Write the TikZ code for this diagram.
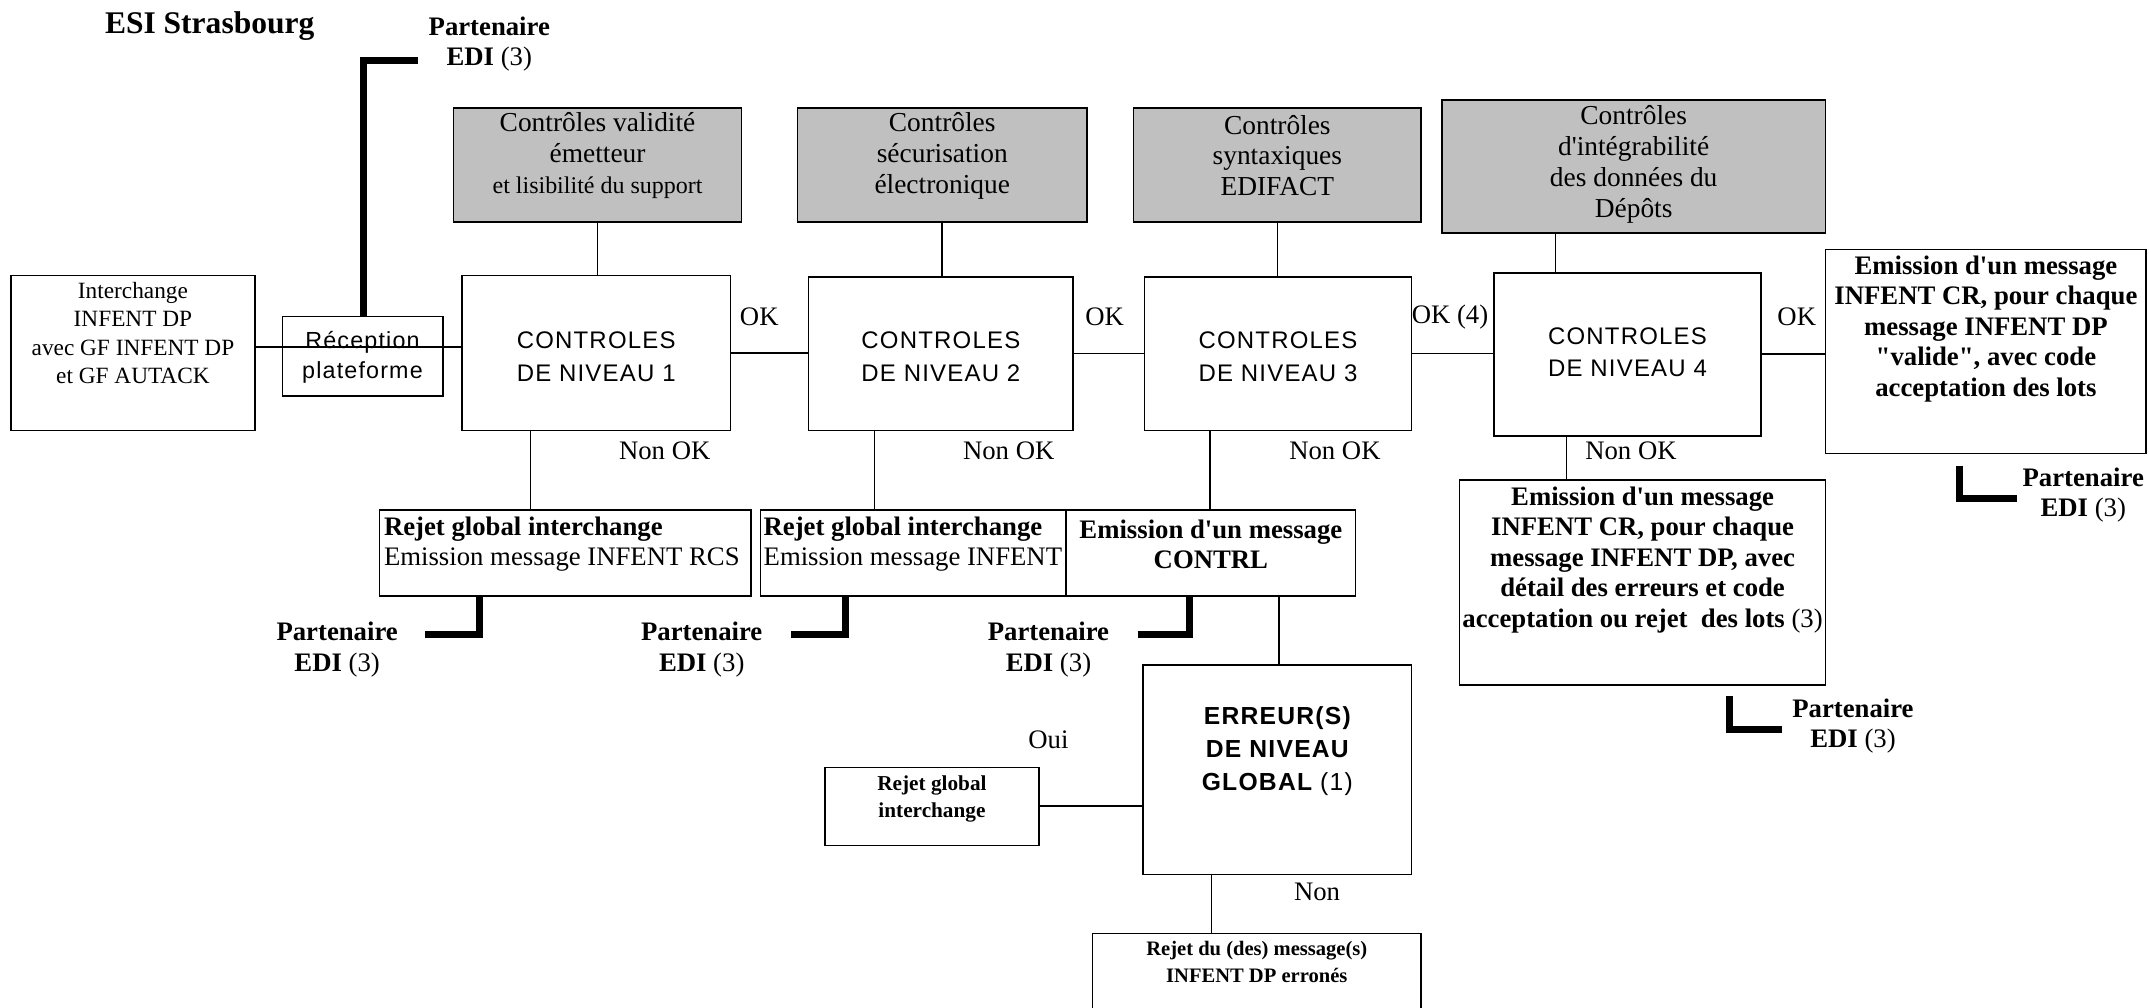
\documentclass[tikz,border=0pt]{standalone}
\usepackage{fontspec}
\setmainfont{Liberation Serif}
\newfontfamily\sfsp[LetterSpace=5]{Liberation Sans}
\usetikzlibrary{calc}
\definecolor{greyfill}{HTML}{C0C0C0}
\tikzset{
  box/.style={draw, line width=1.2pt, inner sep=0pt},
  greybox/.style={box, fill=greyfill},
  txt/.style={inner sep=0pt, align=center, font=\fontsize{19.5}{22}\selectfont},
  greytxt/.style={inner sep=0pt, align=center, font=\fontsize{20}{22.5}\selectfont},
  smalltxt/.style={inner sep=0pt, align=center, font=\fontsize{17}{20.5}\selectfont},
  tinybold/.style={inner sep=0pt, align=center, font=\bfseries\fontsize{15.5}{20}\selectfont},
  lvltxt/.style={inner sep=0pt, align=center, font=\sfsp\fontsize{17.5}{24}\selectfont},
  conn/.style={line width=1.2pt},
  partner/.style={line width=5pt},
}
\newcommand{\aq}{\textquotesingle}
\newcommand{\dq}{\textquotedbl}
\begin{document}
\begin{tikzpicture}[x=1pt,y=-1pt]
\fill[white] (0,0) rectangle (1568,735);
\useasboundingbox (0,0) rectangle (1568,735);

% title
\node[inner sep=0pt, font=\bfseries\fontsize{23}{26}\selectfont] (title) at (153,19) {ESI Strasbourg};

% top partner
\node[txt] (p0t) at (357,32) {\textbf{Partenaire}\\\textbf{EDI} (3)};

% interchange
\node[box, minimum width=178pt, minimum height=113pt] (inter) at (97,257.5) {};
\node[smalltxt] (intert) at (97,243) {Interchange\\INFENT DP\\avec GF INFENT DP\\et GF AUTACK};

% reception
\node[box, minimum width=117pt, minimum height=58pt] (recep) at (264.5,260) {};
\node[inner sep=0pt, align=center, font=\sfsp\fontsize{17}{22}\selectfont] (recept) at (264.5,261) {Réception\\plateforme};

% level boxes
\node[box, minimum width=196pt, minimum height=113pt] (L1) at (435,257.5) {};
\node[box, minimum width=193pt, minimum height=112pt] (L2) at (686.5,258) {};
\node[box, minimum width=195pt, minimum height=112pt] (L3) at (932.5,258) {};
\node[box, minimum width=195pt, minimum height=119pt] (L4) at (1187.5,258.5) {};
\node[lvltxt] (L1t) at (435,260) {CONTROLES\\DE NIVEAU 1};
\node[lvltxt] (L2t) at (686.5,260) {CONTROLES\\DE NIVEAU 2};
\node[lvltxt] (L3t) at (932.5,260) {CONTROLES\\DE NIVEAU 3};
\node[lvltxt] (L4t) at (1187.5,257) {CONTROLES\\DE NIVEAU 4};

% grey boxes
\node[greybox, minimum width=210pt, minimum height=83pt] (G1) at (436,120.5) {};
\node[greybox, minimum width=211pt, minimum height=83pt] (G2) at (687.5,120.5) {};
\node[greybox, minimum width=210pt, minimum height=83pt] (G3) at (932,120.5) {};
\node[greybox, minimum width=280pt, minimum height=97pt] (G4) at (1192,121.5) {};
\node[greytxt] (G1t) at (436,113.5) {Contrôles validité\\émetteur\\{\fontsize{17.5}{20}\selectfont et lisibilité du support}};
\node[greytxt] (G2t) at (687.5,113.5) {Contrôles\\sécurisation\\électronique};
\node[greytxt] (G3t) at (932,113.5) {Contrôles\\syntaxiques\\EDIFACT};
\node[greytxt] (G4t) at (1192,120) {Contrôles\\d\aq intégrabilité\\des données du\\Dépôts};

% emission right box
\node[box, minimum width=234pt, minimum height=149pt] (ER) at (1449,256.5) {};
\node[txt, font=\bfseries\fontsize{19.5}{22.3}\selectfont] (ERt) at (1449,240) {Emission d\aq un message\\INFENT CR, pour chaque\\message INFENT DP\\\dq valide\dq, avec code\\acceptation des lots};

% reject boxes
\node[box, minimum width=271pt, minimum height=63pt] (R1) at (412.5,403.5) {};
\node[txt, align=left, anchor=west] (R1t) at (280,397) {\textbf{Rejet global interchange}\\Emission message INFENT RCS};
\node[box, minimum width=223pt, minimum height=63pt] (R2) at (666.5,403.5) {};
\node[txt, align=left, anchor=west] (R2t) at (557,397) {\textbf{Rejet global interchange}\\Emission message INFENT};
\node[box, minimum width=211pt, minimum height=63pt] (R3) at (883.5,403.5) {};
\node[txt, font=\bfseries\fontsize{19.5}{22}\selectfont] (R3t) at (883.5,397) {Emission d\aq un message\\CONTRL};
\node[box, minimum width=267pt, minimum height=150pt] (R4) at (1198.5,425) {};
\node[txt, font=\bfseries\fontsize{19.5}{22.3}\selectfont] (R4t) at (1198.5,408.5) {Emission d\aq un message\\INFENT CR, pour chaque\\message INFENT DP, avec\\détail des erreurs et code\\acceptation ou rejet\ \ des lots \textmd{(3)}};

% erreur box
\node[box, minimum width=196pt, minimum height=153pt] (E) at (932,561.5) {};
\node[inner sep=0pt, align=center, font=\sfsp\bfseries\fontsize{18}{24}\selectfont] (Et) at (932,548) {ERREUR(S)\\DE NIVEAU\\GLOBAL {\mdseries(1)}};
\node[box, minimum width=156pt, minimum height=57pt] (RG) at (680,588.5) {};
\node[tinybold] (RGt) at (680,583) {Rejet global\\interchange};
\node[box, minimum width=240pt, minimum height=56pt] (B) at (917,709) {};
\node[tinybold, font=\bfseries\fontsize{15}{20}\selectfont] (Bt) at (917,702) {Rejet du (des) message(s)\\INFENT DP erronés};

% labels
\node[txt] (ok1) at (554,231) {OK};
\node[txt] (ok2) at (806,231) {OK};
\node[txt] (ok3) at (1058,231) {OK (4)};
\node[txt] (ok4) at (1311,231) {OK};
\node[txt] (nok1) at (485,329) {Non OK};
\node[txt] (nok2) at (736,329) {Non OK};
\node[txt] (nok3) at (974,329) {Non OK};
\node[txt] (nok4) at (1190,329) {Non OK};
\node[txt] (oui) at (765,540) {Oui};
\node[txt] (non) at (961,651) {Non};

% partner labels
\node[txt] (p1t) at (246,474) {\textbf{Partenaire}\\\textbf{EDI} (3)};
\node[txt] (p2t) at (512,474) {\textbf{Partenaire}\\\textbf{EDI} (3)};
\node[txt] (p3t) at (765,474) {\textbf{Partenaire}\\\textbf{EDI} (3)};
\node[txt] (p4t) at (1352,530) {\textbf{Partenaire}\\\textbf{EDI} (3)};
\node[txt] (p5t) at (1520,361) {\textbf{Partenaire}\\\textbf{EDI} (3)};

% connectors
\coordinate (hin) at ([yshift=4.5pt]inter.east);
\draw[conn] (hin) -- (hin -| L1.west);
\draw[conn] (L1.east) -- (L1.east -| L2.west);
\draw[conn] (L2.east) -- (L2.east -| L3.west);
\draw[conn] (L3.east) -- (L3.east -| L4.west);
\draw[conn] (L4.east) -- (L4.east -| ER.west);

\draw[conn] (G1.south) -- (G1.south |- L1.north);
\draw[conn] (G2.south) -- (G2.south |- L2.north);
\draw[conn] (G3.south) -- (G3.south |- L3.north);
\coordinate (g4x) at (1135,0);
\draw[conn] (G4.south -| g4x) -- (L4.north -| g4x);

\coordinate (n1x) at (387,0);
\coordinate (n2x) at (638,0);
\coordinate (n3x) at (883,0);
\coordinate (n4x) at (1143,0);
\draw[conn] (L1.south -| n1x) -- (R1.north -| n1x);
\draw[conn] (L2.south -| n2x) -- (R2.north -| n2x);
\draw[conn] (L3.south -| n3x) -- (R3.north -| n3x);
\draw[conn] (L4.south -| n4x) -- (R4.north -| n4x);

\coordinate (ex) at (933,0);
\draw[conn] (R3.south -| ex) -- (E.north -| ex);
\coordinate (rgy) at (0,588);
\draw[conn] (RG.east |- rgy) -- (E.west |- rgy);
\coordinate (bx) at (884,0);
\draw[conn] (E.south -| bx) -- (B.north -| bx);

% partner thick lines
\coordinate (p0x) at (265,0);
\coordinate (p0e) at (305,44);
\draw[partner] (p0e) -| (recep.north -| p0x);
\coordinate (p1x) at (350,0);
\coordinate (p1e) at (310,463);
\draw[partner] (p1e) -| (R1.south -| p1x);
\coordinate (p2x) at (617,0);
\coordinate (p2e) at (577,463);
\draw[partner] (p2e) -| (R2.south -| p2x);
\coordinate (p3x) at (868,0);
\coordinate (p3e) at (830,463);
\draw[partner] (p3e) -| (R3.south -| p3x);
\coordinate (p4a) at (1262,508);
\coordinate (p4e) at (1300,532);
\draw[partner] (p4a) |- (p4e);
\coordinate (p5a) at (1430,340);
\coordinate (p5e) at (1472,364);
\draw[partner] (p5a) |- (p5e);
\end{tikzpicture}
\end{document}
